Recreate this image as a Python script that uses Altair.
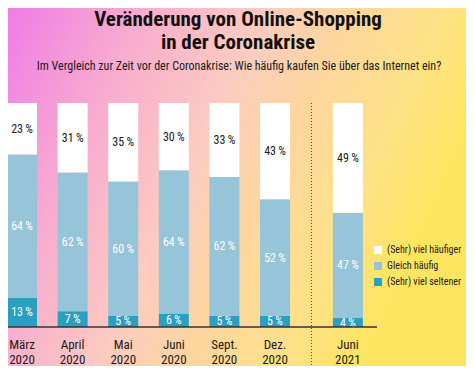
import altair as alt
import pandas as pd

months = ["März", "April", "Mai", "Juni", "Sept.", "Dez.", "Juni"]
years = ["2020", "2020", "2020", "2020", "2020", "2020", "2021"]
haeufiger = [23, 31, 35, 30, 33, 43, 49]
gleich = [64, 62, 60, 64, 62, 52, 47]
seltener = [13, 7, 5, 6, 5, 5, 4]
categories = ["(Sehr) viel häufiger", "Gleich häufig", "(Sehr) viel seltener"]
colors = ["#ffffff", "#96c4d8", "#2b9fc0"]
title_lines = ["Veränderung von Online-Shopping", "in der Coronakrise"]
subtitle = "Im Vergleich zur Zeit vor der Coronakrise: Wie häufig kaufen Sie über das Internet ein?"

FONT = "Roboto Condensed, Liberation Sans Narrow, sans-serif"

rows = []
for i in range(len(months)):
    for order, (cat, vals) in enumerate(zip(categories[::-1], [seltener, gleich, haeufiger])):
        rows.append({"idx": i, "month": months[i], "year": years[i],
                     "cat": cat, "order": order, "value": vals[i]})
df = pd.DataFrame(rows)
labels_df = pd.DataFrame({"idx": list(range(len(months))), "month": months, "year": years})

W, H = 458, 224
PT, PB = 95, 39

xscale = alt.Scale(domain=[-0.277, 8.775], nice=False, zero=False, padding=0)
yscale = alt.Scale(domain=[0, 100], nice=False)

bg = alt.Chart(alt.Data(values=[{}])).mark_rect(
    color=alt.LinearGradient(
        gradient="linear", x1=0, y1=0, x2=1, y2=0.35,
        stops=[
            alt.GradientStop(offset=0, color="#f07ce6"),
            alt.GradientStop(offset=0.25, color="#f8aad0"),
            alt.GradientStop(offset=0.5, color="#fcccc0"),
            alt.GradientStop(offset=0.65, color="#fdd5a0"),
            alt.GradientStop(offset=0.85, color="#fde286"),
            alt.GradientStop(offset=1, color="#fee560"),
        ],
    )
).encode(x=alt.value(0), x2=alt.value(W), y=alt.value(-PT), y2=alt.value(H + PB))

base = alt.Chart(df).transform_calculate(
    pos="datum.idx + (datum.idx >= 6 ? 0.44 : 0)"
).transform_stack(
    stack="value", groupby=["idx"], as_=["y0", "y1"],
    sort=[alt.SortField(field="order", order="ascending")]
).transform_calculate(
    ymid="(datum.y0 + datum.y1) / 2",
    label="datum.value + '\u2009%'"
)

bars = base.mark_bar(size=30).encode(
    x=alt.X("pos:Q", scale=xscale, axis=None),
    y=alt.Y("y0:Q", scale=yscale, axis=None),
    y2="y1:Q",
    color=alt.Color("cat:N", scale=alt.Scale(domain=categories, range=colors),
                    legend=alt.Legend(title=None, orient="none", legendX=365, legendY=142,
                                      symbolType="square", symbolSize=64, symbolStrokeWidth=0,
                                      labelFont=FONT, labelFontSize=10, labelColor="#222",
                                      labelOffset=4, rowPadding=6, padding=0)),
)

texts = base.mark_text(font=FONT, fontSize=12, baseline="middle").encode(
    x=alt.X("pos:Q", scale=xscale),
    y=alt.Y("ymid:Q", scale=yscale),
    text="label:N",
    color=alt.when(alt.datum.cat == categories[0]).then(alt.value("#222")).otherwise(alt.value("#ffffff")),
)

xlabels = alt.Chart(labels_df).transform_calculate(
    pos="datum.idx + (datum.idx >= 6 ? 0.44 : 0)",
    txt="[datum.month, datum.year]"
).mark_text(font=FONT, fontSize=13, baseline="alphabetic", lineHeight=15, color="#1a1a1a").encode(
    x=alt.X("pos:Q", scale=xscale),
    y=alt.value(H + 22),
    text="txt:N",
)

baseline_rule = alt.Chart(alt.Data(values=[{}])).mark_rule(color="#333", strokeWidth=1.5).encode(
    x=alt.value(0), x2=alt.value(369), y=alt.value(H)
)

divider = alt.Chart(alt.Data(values=[{}])).mark_rule(color="#444", strokeWidth=1, strokeDash=[1, 2]).encode(
    x=alt.datum(5.72, scale=xscale), y=alt.value(0), y2=alt.value(H + PB)
)

title_df = pd.DataFrame({"line": title_lines, "n": list(range(len(title_lines)))})
title1 = alt.Chart(title_df).mark_text(font=FONT, fontSize=21, fontWeight="bold", color="#111",
                                        baseline="alphabetic").encode(
    x=alt.value(230), y=alt.value(-77), text="line:N",
).transform_filter("datum.n == 0")
title2 = alt.Chart(title_df).mark_text(font=FONT, fontSize=21, fontWeight="bold", color="#111",
                                        baseline="alphabetic").encode(
    x=alt.value(230), y=alt.value(-54), text="line:N",
).transform_filter("datum.n == 1")

sub_df = pd.DataFrame({"line": [subtitle]})
sub = alt.Chart(sub_df).mark_text(font=FONT, fontSize=12, color="#1a1a1a", baseline="alphabetic").encode(
    x=alt.value(231), y=alt.value(-33), text="line:N"
)

chart = alt.layer(bg, bars, texts, xlabels, baseline_rule, divider, title1, title2, sub).properties(
    width=W, height=H,
    autosize=alt.AutoSizeParams(type="none"),
    padding={"left": 0, "top": PT, "right": 0, "bottom": PB},
).configure_view(strokeWidth=0)

chart.save("out.html", embed_options={"renderer": "svg", "actions": False})
